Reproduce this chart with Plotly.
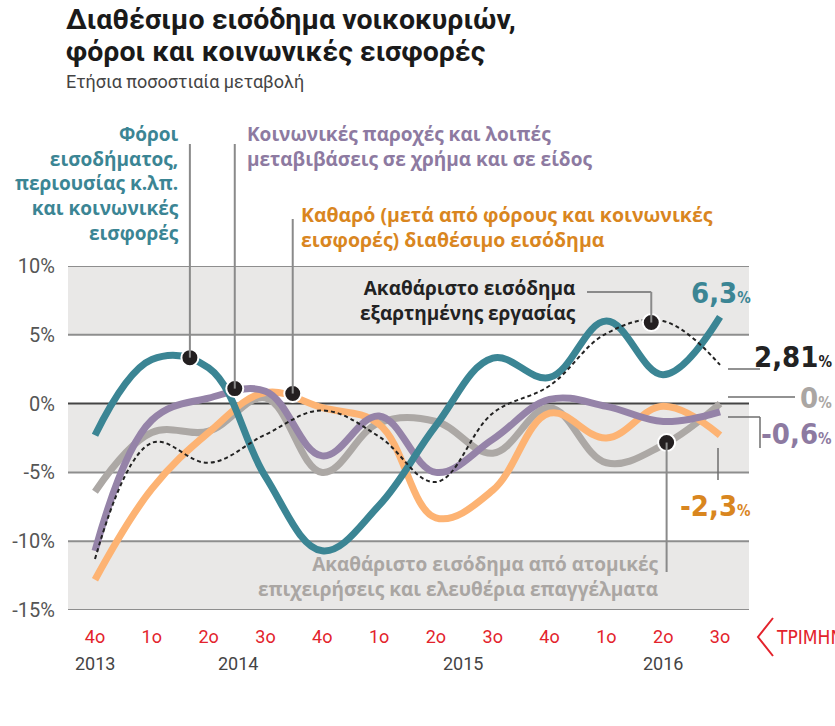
import plotly.graph_objects as go

# ---------------- data ----------------
quarters = ["4ο", "1ο", "2ο", "3ο", "4ο", "1ο", "2ο", "3ο", "4ο", "1ο", "2ο", "3ο"]
years = ["2013", "2014", "2015", "2016"]
year_pos = [0, 2.52, 6.48, 10.0]

taxes = [-2.3, 3.2, 2.6, -5.3, -10.7, -7.4, -1.6, 3.3, 1.9, 6.0, 2.1, 6.3]
benefits = [-10.7, -1.2, 0.4, 0.9, -3.8, -0.9, -5.0, -2.6, 0.3, -0.2, -1.3, -0.6]
net_income = [-12.8, -6.2, -2.1, 0.8, -0.3, -1.5, -8.3, -6.3, -0.7, -2.5, -0.2, -2.3]
wages = [-11.3, -2.85, -4.3, -2.25, -0.5, -2.4, -5.7, -0.7, 1.3, 5.1, 6.0, 2.81]
self_employed = [-6.4, -2.1, -2.0, 0.4, -5.0, -1.4, -1.3, -3.6, -0.3, -4.3, -3.0, 0.0]

yticks = [10, 5, 0, -5, -10, -15]

TEAL = "#3b8594"
PURPLE = "#9583a8"
PURPLE_T = "#8d7aa1"
ORANGE = "#fdb373"
ORANGE_T = "#d9861f"
GRAY = "#aca8a5"
GRAY_T = "#aaa6a3"
BLACK = "#222222"
RED = "#e3232c"
FONT = "Roboto"
LABF = "Open Sans"
NARROW = "DejaVu Sans Condensed"

W, H = 835, 726
L, R, T, B = 68, 749, 266, 610
x_range = [-0.475, 11.51]
y_range = [-15, 10]


def px(xp):
    return (xp - L) / (R - L)


def py(yp):
    return (B - yp) / (B - T)


def ypaper(v):
    return (v - y_range[0]) / (y_range[1] - y_range[0])


x = list(range(len(quarters)))

fig = go.Figure()

series = [
    (self_employed, GRAY),
    (net_income, ORANGE),
    (benefits, PURPLE),
    (taxes, TEAL),
]
for ys, col in series:
    fig.add_trace(go.Scatter(x=x, y=ys, mode="lines",
                             line=dict(color=col, width=7, shape="spline", smoothing=1.1),
                             hoverinfo="skip", showlegend=False, cliponaxis=False))
fig.add_trace(go.Scatter(x=x, y=wages, mode="lines",
                         line=dict(color=BLACK, width=2, dash="4px,3px", shape="spline", smoothing=1.1),
                         hoverinfo="skip", showlegend=False, cliponaxis=False))

shapes = []
for y0, y1 in [(5, 10), (-5, 0), (-15, -10)]:
    shapes.append(dict(type="rect", xref="paper", yref="y", x0=0, x1=1, y0=y0, y1=y1,
                       fillcolor="#e9e8e7", line=dict(width=0), layer="below"))
for v in yticks:
    shapes.append(dict(type="line", xref="paper", yref="y", x0=0, x1=1, y0=v, y1=v,
                       line=dict(color="#444444" if v == 0 else "#8e8e8e", width=2), layer="below"))

LC = "#8a8a8a"
callouts = [
    (1.67, 3.34, [(None, 144)]),
    (2.46, 1.09, [(None, 144)]),
    (3.48, 0.73, [(None, 219)]),
    (9.79, 5.89, [(None, 292), (587, 292)]),
    (10.06, -2.83, [(None, 572)]),
]
dot_x, dot_y = [], []
for cx, cy, path in callouts:
    dot_x.append(cx)
    dot_y.append(cy)
    xp0 = L + (cx - x_range[0]) / (x_range[1] - x_range[0]) * (R - L)
    yp0 = B - ypaper(cy) * (B - T)
    pts = [(xp0, yp0)]
    for (a, b) in path:
        pts.append((xp0 if a is None else a, b))
    for (a0, b0), (a1, b1) in zip(pts[:-1], pts[1:]):
        shapes.append(dict(type="line", xref="paper", yref="paper",
                           x0=px(a0), x1=px(a1), y0=py(b0), y1=py(b1),
                           line=dict(color=LC, width=2)))

fig.add_trace(go.Scatter(x=dot_x, y=dot_y, mode="markers",
                         marker=dict(size=17, color="#231f20", line=dict(color="white", width=2)),
                         hoverinfo="skip", showlegend=False, cliponaxis=False))

EC = "#6e6e6e"
for (a0, b0, a1, b1) in [(728, 369, 760, 369), (728, 397, 795, 397),
                         (728, 417, 760, 417), (760, 417, 760, 448), (718, 448, 718, 480)]:
    shapes.append(dict(type="line", xref="paper", yref="paper",
                       x0=px(a0), x1=px(a1), y0=py(b0), y1=py(b1),
                       line=dict(color=EC, width=1.5)))

shapes.append(dict(type="path", xref="paper", yref="paper",
                   path=f"M {px(773)} {py(618)} L {px(758)} {py(637)} L {px(773)} {py(656)}",
                   line=dict(color=RED, width=2)))

ann = []
for txt, yc in [("Διαθέσιμο εισόδημα νοικοκυριών,", 19), ("φόροι και κοινωνικές εισφορές", 51)]:
    ann.append(dict(text=f"<b>{txt}</b>", xref="paper", yref="paper", x=px(64), y=py(yc),
                    xanchor="left", yanchor="middle", align="left", showarrow=False,
                    font=dict(family=FONT, size=28.5, color="#1a1a1a")))
ann.append(dict(text="Ετήσια ποσοστιαία μεταβολή", xref="paper", yref="paper", x=px(64), y=py(82),
                xanchor="left", yanchor="middle", showarrow=False,
                font=dict(family=FONT, size=18, color="#444444")))

ann.append(dict(text="<b>Φόροι<br>εισοδήματος,<br>περιουσίας κ.λπ.<br>και κοινωνικές<br>εισφορές</b>",
                xref="paper", yref="paper", x=px(181), y=py(119), xanchor="right", yanchor="top",
                align="right", showarrow=False, font=dict(family=LABF, size=19, color=TEAL)))
ann.append(dict(text="<b>Κοινωνικές παροχές και λοιπές<br>μεταβιβάσεις σε χρήμα και σε είδος</b>",
                xref="paper", yref="paper", x=px(245), y=py(119), xanchor="left", yanchor="top",
                align="left", showarrow=False, font=dict(family=LABF, size=19, color=PURPLE_T)))
ann.append(dict(text="<b>Καθαρό (μετά από φόρους και κοινωνικές<br>εισφορές) διαθέσιμο εισόδημα</b>",
                xref="paper", yref="paper", x=px(299), y=py(199), xanchor="left", yanchor="top",
                align="left", showarrow=False, font=dict(family=LABF, size=19.5, color=ORANGE_T)))
ann.append(dict(text="<b>Ακαθάριστο εισόδημα<br>εξαρτημένης εργασίας</b>",
                xref="paper", yref="paper", x=px(578), y=py(273), xanchor="right", yanchor="top",
                align="right", showarrow=False, font=dict(family=LABF, size=19, color=BLACK)))
ann.append(dict(text="<b>Ακαθάριστο εισόδημα από ατομικές<br>επιχειρήσεις και ελευθέρια επαγγέλματα</b>",
                xref="paper", yref="paper", x=px(661), y=py(549), xanchor="right", yanchor="top",
                align="right", showarrow=False, font=dict(family=LABF, size=19, color=GRAY_T)))


def endlab(val, col, xr, yc):
    return dict(text=f"<b>{val}<span style='font-size:15px'>%</span></b>", xref="paper", yref="paper",
                x=px(xr), y=py(yc), xanchor="right", yanchor="middle", showarrow=False,
                font=dict(family=NARROW, size=29, color=col))


ann.append(endlab("6,3", TEAL, 753, 293))
ann.append(endlab("2,81", BLACK, 834, 357))
ann.append(endlab("0", GRAY_T, 834, 398))
ann.append(endlab("-0,6", PURPLE_T, 834, 434))
ann.append(endlab("-2,3", ORANGE_T, 753, 506))

for yr, pos in zip(years, year_pos):
    ann.append(dict(text=yr, xref="x", yref="paper", x=pos, y=py(663), xanchor="center",
                    yanchor="middle", showarrow=False, font=dict(family=FONT, size=18, color="#444444")))
ann.append(dict(text="ΤΡΙΜΗΝΟ", xref="paper", yref="paper", x=px(774), y=py(637), xanchor="left",
                yanchor="middle", showarrow=False, font=dict(family=NARROW, size=19, color=RED)))

fig.update_layout(
    width=W, height=H,
    margin=dict(l=L, r=W - R, t=T, b=H - B, pad=0),
    paper_bgcolor="white", plot_bgcolor="white",
    shapes=shapes, annotations=ann, showlegend=False,
    xaxis=dict(range=x_range, tickvals=x, ticktext=quarters, showgrid=False, zeroline=False,
               showline=False, ticks="", tickfont=dict(family=FONT, size=18, color=RED),
               ticklabelstandoff=14, fixedrange=True),
    yaxis=dict(range=y_range, tickvals=yticks, ticktext=[f"{v}%" for v in yticks], showgrid=False,
               zeroline=False, showline=False, ticks="", tickfont=dict(family=FONT, size=20, color="#555555"),
               ticklabelstandoff=12, fixedrange=True),
)

fig.write_html("out.html", config={"displayModeBar": False},
               post_script="document.body.style.margin='0';")
